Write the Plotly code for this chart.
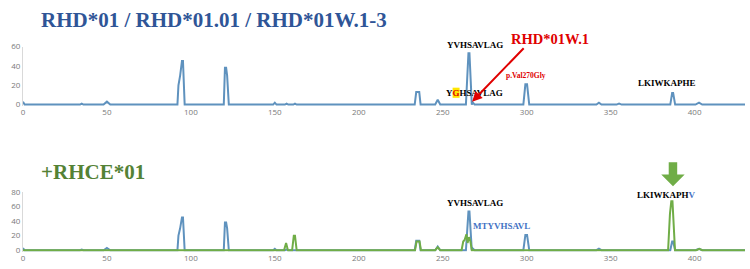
import plotly.graph_objects as go

W, H = 750, 269

# ---- data ----
x_blue = [0, 1, 34, 35, 36, 48, 50, 52, 92, 92.6, 93.6, 94.7, 95.3, 96.3,
          119.6, 120.3, 121.0, 121.6, 122.6, 149, 150, 151, 156, 157, 158, 161, 162, 163,
          233.3, 234.2, 236.0, 236.8, 245.5, 247, 248.5, 263.8, 265.3, 265.9, 267.3, 268, 269,
          298.0, 299.2, 300.2, 301.5, 341.5, 343, 344.5, 353.5, 355, 356.5,
          385.5, 386.6, 387.2, 388.4, 400.5, 402.6, 404.5, 430]
y_blue = [3, 0, 0, 1, 0, 0, 3, 0, 0, 20, 30, 45, 45, 0,
          0, 38, 38, 30, 0, 0, 2, 0, 0, 1, 0, 0, 1, 0,
          0, 13, 13, 0, 0, 5, 0, 0, 53, 53, 0, 2, 0,
          0, 21, 21, 0, 0, 2, 0, 0, 1, 0,
          0, 12, 12, 0, 0, 2, 0, 0]

x_green = [0, 155.5, 156.7, 157.8, 160.3, 161.3, 162.0, 163.0,
           233.5, 234.4, 236.2, 237.0, 245.5, 247, 248.5,
           261.2, 262.2, 263.0, 264.1, 264.8, 265.6, 266.5, 267.3,
           384.2, 385.3, 386.1, 386.8, 388.3, 401, 402.8, 404.5, 430]
y_green = [0, 0, 10, 0, 0, 20, 20, 0,
           0, 12, 12, 0, 0, 4, 0,
           0, 12, 14, 22, 10, 18, 12, 0,
           0, 50, 67, 67, 0, 0, 2, 0, 0]

x_ticks = [0, 50, 100, 150, 200, 250, 300, 350, 400]
y_ticks_top = [0, 20, 40, 60]
y_ticks_bot = [0, 20, 40, 60, 80]

BLUE = "#5F92BE"
GREEN = "#70AD47"
TICKC = "#7A7A7A"
SERIF = "Liberation Serif"


def py(p):
    return 1 - p / H


def px(p):
    return p / W


fig = go.Figure()
fig.add_trace(go.Scatter(x=x_blue, y=y_blue, mode="lines", line=dict(color=BLUE, width=2),
                         xaxis="x", yaxis="y", showlegend=False))
fig.add_trace(go.Scatter(x=x_blue, y=y_blue, mode="lines", line=dict(color=BLUE, width=2),
                         xaxis="x2", yaxis="y2", showlegend=False))
fig.add_trace(go.Scatter(x=x_green, y=y_green, mode="lines", line=dict(color=GREEN, width=2),
                         xaxis="x2", yaxis="y2", showlegend=False))

xdom = [px(21), px(745)]
axis_font = dict(family="Open Sans", size=8, color=TICKC)
common_x = dict(range=[0, 430], domain=xdom, tickvals=x_ticks, showgrid=False, zeroline=False,
                showline=False, ticks="", tickfont=axis_font)
common_y = dict(showgrid=False, zeroline=False, showline=True, linecolor="#D9D9D9", linewidth=1,
                ticks="", tickfont=axis_font)

fig.update_layout(
    width=W, height=H, margin=dict(l=0, r=0, t=0, b=0),
    paper_bgcolor="white", plot_bgcolor="white",
    font=dict(family=SERIF),
    xaxis=dict(**common_x, anchor="y"),
    yaxis=dict(**common_y, range=[-1.5, 60], domain=[py(103.5), py(42)], tickvals=y_ticks_top, anchor="x"),
    xaxis2=dict(**common_x, anchor="y2"),
    yaxis2=dict(**common_y, range=[-2, 80], domain=[py(254.2), py(192.3)], tickvals=y_ticks_bot, anchor="x2"),
)

ann = []


def txt(text, x, y, size, color, family=SERIF, bold=True):
    t = f"<b>{text}</b>" if bold else text
    ann.append(dict(text=t, x=px(x), y=py(y), xref="paper", yref="paper", showarrow=False,
                    xanchor="center", yanchor="middle", font=dict(family=family, size=size, color=color)))


# titles
ann.append(dict(text="<b>RHD*01 / RHD*01.01 / RHD*01W.1-3</b>", x=px(37), y=py(14), xref="paper",
                yref="paper", showarrow=False, xanchor="left", yanchor="middle",
                font=dict(family=SERIF, size=21, color="#2F5597")))
ann.append(dict(text="<b>+RHCE*01</b>", x=px(37), y=py(171.5), xref="paper",
                yref="paper", showarrow=False, xanchor="left", yanchor="middle",
                font=dict(family=SERIF, size=21, color="#548235")))

# top annotations
txt("YVHSAVLAG", 474, 40.5, 9, "black")
txt("Y<span style='color:#E00000'>G</span>HSAVLAG", 474, 90, 9, "black")
txt("RHD*01W.1", 549.5, 34, 14.5, "#E00000")
txt("p.Val270Gly", 525.5, 72, 7.5, "#E00000")
txt("LKIWKAPHE", 666.7, 80, 9, "black")
# red arrow
ann.append(dict(text="", x=267.5, y=3, xref="x", yref="y", showarrow=True, arrowhead=2,
                arrowsize=1, arrowwidth=2, arrowcolor="#E00000", ax=53, ay=-55))

# bottom annotations
txt("YVHSAVLAG", 474.3, 204, 9, "black")
txt("MTYVHSAVL", 500.5, 227.3, 9, "#4472C4")
txt("LKIWKAPH<span style='color:#4472C4'>V</span>", 666.7, 196, 9, "black")

fig.update_layout(annotations=ann)

# yellow highlight behind G
fig.add_shape(type="rect", xref="paper", yref="paper", x0=px(451.8), x1=px(458.8), y0=py(95), y1=py(84.5),
              fillcolor="#FFE600", line=dict(width=0), layer="above")

# green block arrow
pts = [(668.5, 161.7), (677, 161.7), (677, 174.3), (684.5, 174.3), (672.8, 186.5),
       (661, 174.3), (668.5, 174.3)]
path = "M " + " L ".join(f"{px(a):.5f},{py(b):.5f}" for a, b in pts) + " Z"
fig.add_shape(type="path", xref="paper", yref="paper", path=path, fillcolor=GREEN,
              line=dict(width=0))

fig.write_html("out.html")
